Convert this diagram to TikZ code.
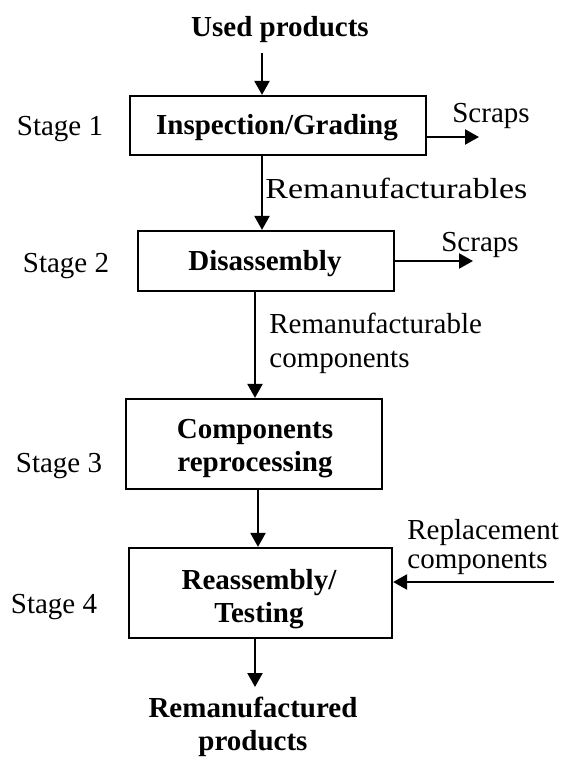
\documentclass[tikz,border=0pt]{standalone}
\usepackage{fontspec}
\setmainfont{Liberation Serif}
\usetikzlibrary{arrows.meta}
\begin{document}
\begin{tikzpicture}[x=0.5pt,y=-0.5pt,
  every node/.style={font=\fontsize{14.5}{16.5}\selectfont, inner sep=0pt},
  box/.style={draw, line width=1.1pt},
  boxtxt/.style={align=center, font=\fontsize{14.5}{16.5}\selectfont\bfseries},
  lbl/.style={text height=9.5pt, text depth=3pt},
  two/.style={align=left, font=\fontsize{14.5}{17}\selectfont},
  arr/.style={line width=1.1pt, -{Triangle[length=7pt,width=7.5pt]}},
  ]
\useasboundingbox (0,0) rectangle (564,760);
% top input
\node[lbl, font=\fontsize{14.5}{16.5}\selectfont\bfseries] (used) at (280,30) {Used products};
\coordinate (a0) at (262,53);
% stage 1
\node[box, minimum width=148pt, minimum height=29.5pt] (b1) at (278,125.5) {};
\node[boxtxt] (t1) at (277,128) {Inspection/Grading};
\node[lbl] (s1) at (60,129) {Stage 1};
\node[lbl] (sc1) at (491,116) {Scraps};
\coordinate (sc1e) at (479,137);
\draw[arr] (a0) -- (a0 |- b1.north);
\draw[arr] (b1.east |- sc1e) -- (sc1e);
% stage 2
\node[box, minimum width=128pt, minimum height=30pt] (b2) at (266,261) {};
\node[boxtxt] (t2) at (265,264) {Disassembly};
\node[lbl, anchor=west, xscale=1.17] (rm1) at (265,192) {Remanufacturables};
\draw[arr] (b1.south -| a0) -- (b2.north -| a0);
\node[lbl] (s2) at (66,266) {Stage 2};
\node[lbl] (sc2) at (480,245) {Scraps};
\coordinate (sc2e) at (473,261);
\draw[arr] (b2.east |- sc2e) -- (sc2e);
% stage 3
\node[box, minimum width=128pt, minimum height=45pt] (b3) at (254,444) {};
\node[boxtxt] (t3) at (255,449) {Components\\reprocessing};
\coordinate (a2) at (255,300);
\draw[arr] (b2.south -| a2) -- (b3.north -| a2);
\node[two, anchor=west] (rm2) at (269,343) {Remanufacturable\\components};
\node[lbl] (s3) at (59,466) {Stage 3};
% stage 4
\node[box, minimum width=131.5pt, minimum height=45pt] (b4) at (260.5,593) {};
\node[boxtxt] (t4) at (259,599) {Reassembly/\\Testing};
\coordinate (a3) at (258,500);
\draw[arr] (b3.south -| a3) -- (b4.north -| a3);
\node[lbl] (s4) at (54,607) {Stage 4};
\node[two, anchor=west, font=\fontsize{14.5}{14.5}\selectfont] (rep) at (407,547) {Replacement\\components};
\coordinate (repe) at (554,582);
\draw[arr] (repe) -- (b4.east |- repe);
% output
\coordinate (a4) at (255,687);
\draw[arr] (b4.south -| a4) -- (a4);
\node[align=center, font=\fontsize{14.5}{16.5}\selectfont\bfseries] (out) at (253,727) {Remanufactured\\products};
\end{tikzpicture}
\end{document}
